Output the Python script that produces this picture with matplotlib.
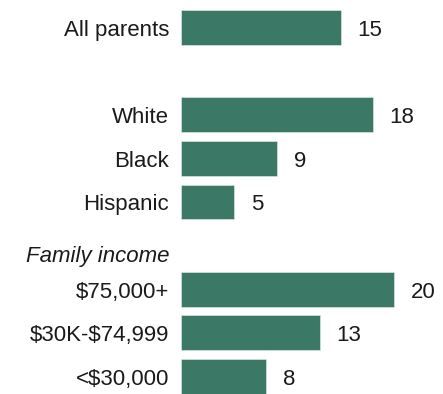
import matplotlib.pyplot as plt

# Row labels and values, top to bottom
labels = ["All parents", "White", "Black", "Hispanic",
          "$75,000+", "$30K-$74,999", "<$30,000"]
values = [15, 18, 9, 5, 20, 13, 8]
group_header = "Family income"

# slot positions: gap after "All parents", header slot before income rows
slots = [0, 2, 3, 4, 6, 7, 8]
header_slot = 5

bar_color = "#3b7866"
plt.rcParams["font.family"] = ["Liberation Sans", "DejaVu Sans"]
fs = 16

W, H = 443, 394
fig = plt.figure(figsize=(W / 100, H / 100), dpi=100)
ax_left, ax_top, ax_bottom = 181, 10, 394
ax = fig.add_axes([ax_left / W, 1 - ax_bottom / H, (W - ax_left) / W, (ax_bottom - ax_top) / H])

ax.barh(slots, values, height=0.8, color=bar_color, edgecolor="#d6e4de", linewidth=0.5)
ax.set_ylim(8.4, -0.4)
ax.set_xlim(0, (W - ax_left) / 10.67)

for s, lab, v in zip(slots, labels, values):
    ax.annotate(lab, xy=(0, s), xytext=(-8.6, -2), textcoords="offset points",
                ha="right", va="center", fontsize=fs, color="#1a1a1a",
                annotation_clip=False, parse_math=False)
    ax.annotate(str(v), xy=(v, s), xytext=(12, -2), textcoords="offset points",
                ha="left", va="center", fontsize=fs, color="#1a1a1a",
                annotation_clip=False)

ax.annotate(group_header, xy=(0, header_slot), xytext=(-8.6, -8), textcoords="offset points",
            ha="right", va="center", fontsize=fs, style="italic", color="#1a1a1a",
            annotation_clip=False)

ax.axis("off")
fig.savefig("out.png", dpi=100)
